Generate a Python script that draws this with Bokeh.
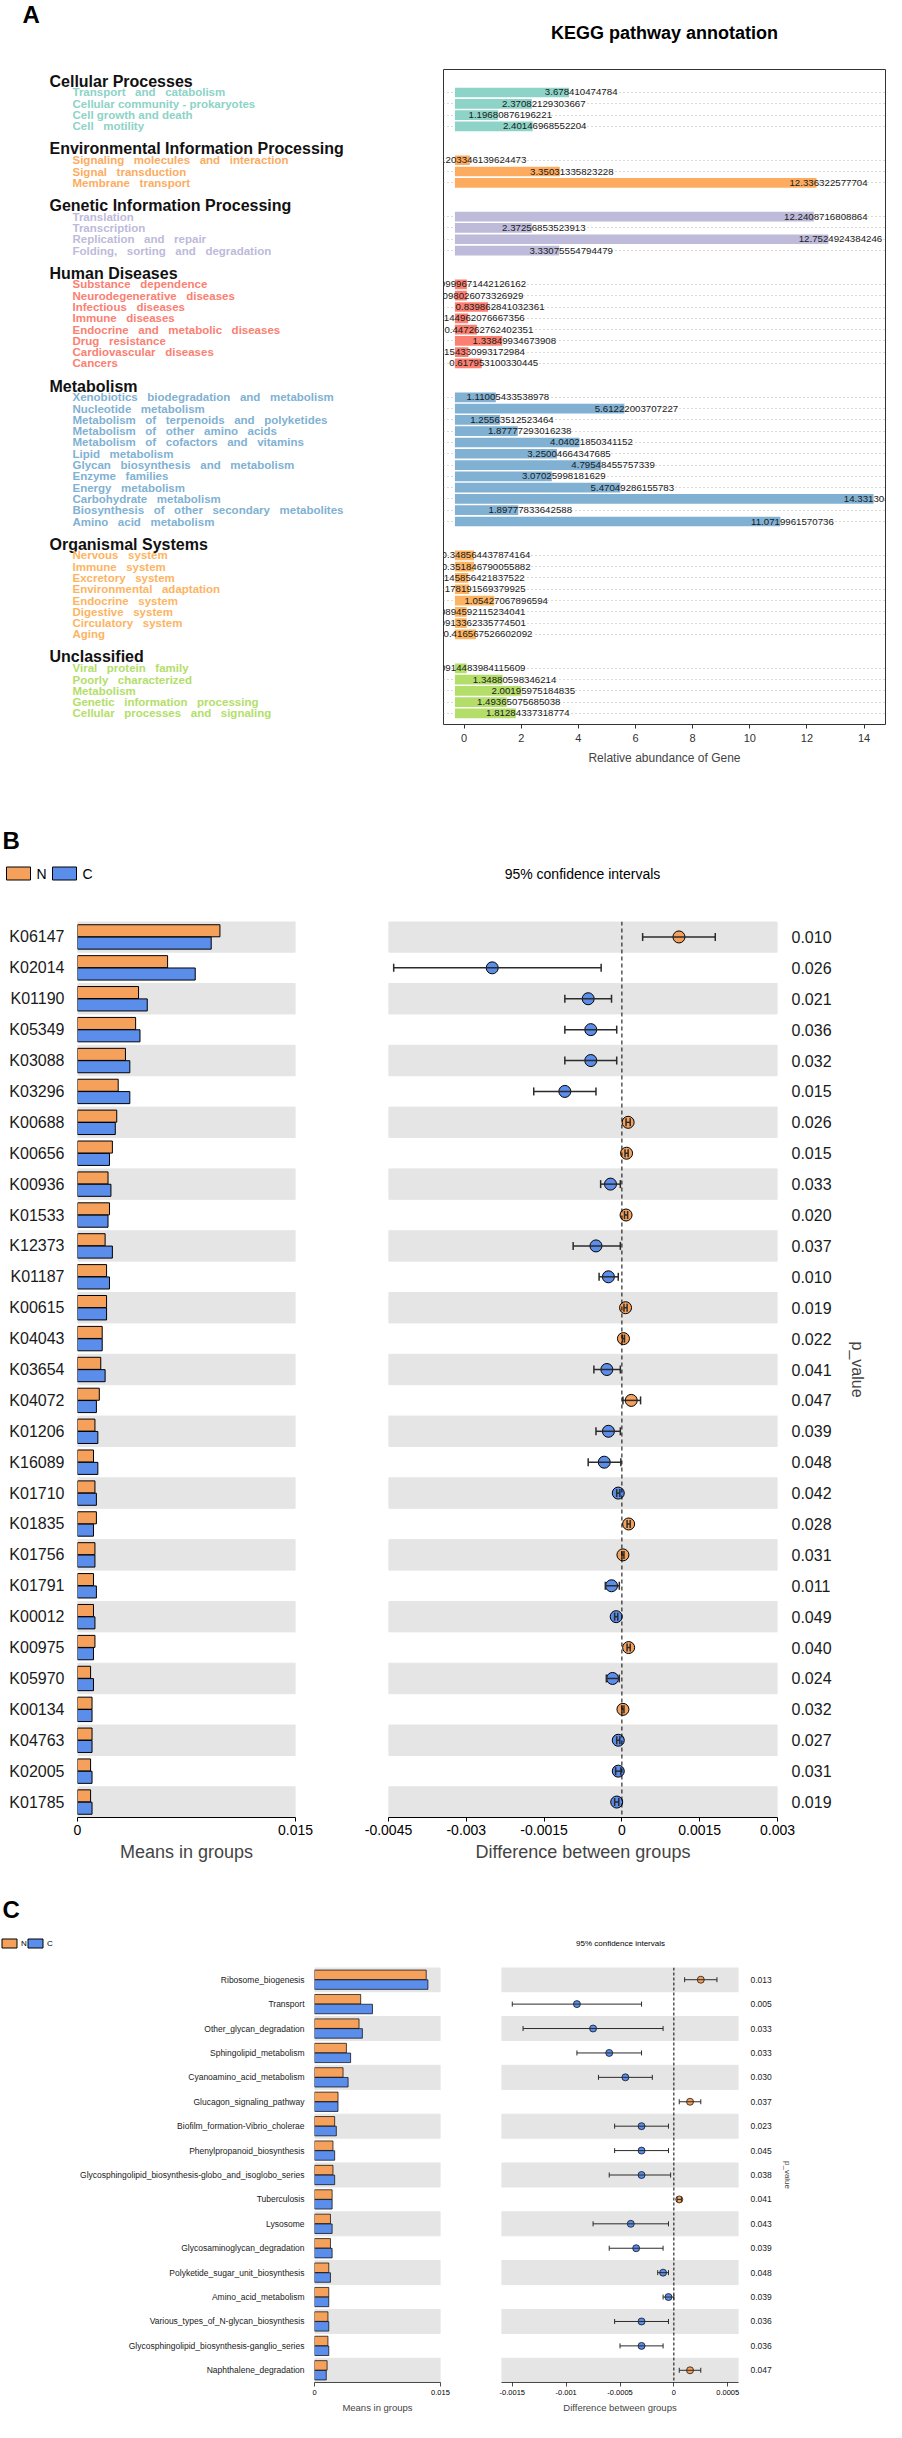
import math
from bokeh.plotting import figure
from bokeh.models import (Range1d, FactorRange, ColumnDataSource, FixedTicker,
                          Grid, Span, CustomJSTickFormatter)
from bokeh.layouts import column, row
from bokeh.transform import dodge
from bokeh.core.properties import value
from bokeh.embed import file_html
from bokeh.resources import INLINE

FONT = "Liberation Sans"

# ===================== Panel A data =====================
A_letter = "A"
A_title = "KEGG pathway annotation"
A_xlabel = "Relative abundance of Gene"
A_categories = ["Cellular Processes", "Environmental Information Processing",
                "Genetic Information Processing", "Human Diseases", "Metabolism",
                "Organismal Systems", "Unclassified"]
A_category_colors = ["#8DD3C7", "#FDAC5F", "#BEBADA", "#FB8072", "#80B1D3", "#FDB462", "#B3DE69"]

cellular_items = ["Transport and catabolism", "Cellular community - prokaryotes",
                  "Cell growth and death", "Cell motility"]
cellular_values = [3.678410474784, 2.37082129303667, 1.19680876196221, 2.40146968552204]

environmental_items = ["Signaling molecules and interaction", "Signal transduction",
                       "Membrane transport"]
environmental_values = [0.203346139624473, 3.35031335823228, 12.336322577704]

genetic_items = ["Translation", "Transcription", "Replication and repair",
                 "Folding, sorting and degradation"]
genetic_values = [12.2408716808864, 2.37256853523913, 12.7524924384246, 3.33075554794479]

human_items = ["Substance dependence", "Neurodegenerative diseases", "Infectious diseases",
               "Immune diseases", "Endocrine and metabolic diseases", "Drug resistance",
               "Cardiovascular diseases", "Cancers"]
human_values = [0.0999671442126162, 0.098026073326929, 0.839862841032361, 0.144962076667356,
                0.447262762402351, 1.33849934673908, 0.154330993172984, 0.617953100330445]

metabolism_items = ["Xenobiotics biodegradation and metabolism", "Nucleotide metabolism",
                    "Metabolism of terpenoids and polyketides", "Metabolism of other amino acids",
                    "Metabolism of cofactors and vitamins", "Lipid metabolism",
                    "Glycan biosynthesis and metabolism", "Enzyme families", "Energy metabolism",
                    "Carbohydrate metabolism", "Biosynthesis of other secondary metabolites",
                    "Amino acid metabolism"]
metabolism_values = [1.11005433538978, 5.61222003707227, 1.25563512523464, 1.87777293016238,
                     4.04021850341152, 3.25004664347685, 4.79548455757339, 3.07025998181629,
                     5.47049286155783, 14.3313045217685, 1.89777833642588, 11.0719961570736]

organismal_items = ["Nervous system", "Immune system", "Excretory system",
                    "Environmental adaptation", "Endocrine system", "Digestive system",
                    "Circulatory system", "Aging"]
organismal_values = [0.348564437874164, 0.351846790055882, 0.145856421837522, 0.178191569379925,
                     1.05427067896594, 0.0894592115234041, 0.0913362335774501, 0.416567526602092]

unclassified_items = ["Viral protein family", "Poorly characterized", "Metabolism",
                      "Genetic information processing", "Cellular processes and signaling"]
unclassified_values = [0.0914483984115609, 1.34880598346214, 2.00195975184835,
                       1.49365075685038, 1.81284337318774]

A_ticks = [0, 2, 4, 6, 8, 10, 12, 14]
A_normal_spacing = {"Cellular community - prokaryotes", "Cell growth and death"}

# ===================== Panel B data =====================
B_letter = "B"
B_groups = ["N", "C"]
B_ci_title = "95% confidence intervals"
B_kos = ["K06147", "K02014", "K01190", "K05349", "K03088", "K03296", "K00688", "K00656",
         "K00936", "K01533", "K12373", "K01187", "K00615", "K04043", "K03654", "K04072",
         "K01206", "K16089", "K01710", "K01835", "K01756", "K01791", "K00012", "K00975",
         "K05970", "K00134", "K04763", "K02005", "K01785"]
B_mean_N = [0.0098, 0.0062, 0.0042, 0.0040, 0.0033, 0.0028, 0.0027, 0.0024, 0.0021, 0.0022,
            0.0019, 0.0020, 0.0020, 0.0017, 0.0016, 0.0015, 0.0012, 0.0011, 0.0012, 0.0013,
            0.0012, 0.0011, 0.0011, 0.0012, 0.0009, 0.0010, 0.0010, 0.0009, 0.0009]
B_mean_C = [0.0092, 0.0081, 0.0048, 0.0043, 0.0036, 0.0036, 0.0026, 0.0022, 0.0023, 0.0021,
            0.0024, 0.0022, 0.0020, 0.0017, 0.0019, 0.0013, 0.0014, 0.0014, 0.0013, 0.0011,
            0.0012, 0.0013, 0.0012, 0.0011, 0.0011, 0.0010, 0.0010, 0.0010, 0.0010]
B_diff = [0.0011, -0.0025, -0.00065, -0.0006, -0.0006, -0.0011, 0.00012, 0.00009, -0.00022,
          0.00008, -0.0005, -0.00026, 0.00007, 0.00003, -0.00029, 0.00018, -0.00026, -0.00034,
          -0.00007, 0.00013, 0.00002, -0.0002, -0.00011, 0.00013, -0.00018, 0.00002, -0.00007,
          -0.00007, -0.0001]
B_ci_low = [0.0004, -0.0044, -0.0011, -0.0011, -0.0011, -0.0017, 0.00008, 0.00006, -0.00041,
            0.00005, -0.00094, -0.00044, 0.00004, 0.00001, -0.00054, 0.00002, -0.0005, -0.00065,
            -0.0001, 0.0001, 0.0, -0.00032, -0.00014, 0.0001, -0.0003, 0.0, -0.0001,
            -0.00012, -0.00014]
B_ci_high = [0.0018, -0.0004, -0.0002, -0.0001, -0.0001, -0.0005, 0.00016, 0.00012, -0.00003,
             0.00011, -0.00003, -0.00007, 0.0001, 0.00005, -0.00003, 0.00036, -0.00003, -0.00002,
             -0.00004, 0.00016, 0.00004, -0.00005, -0.00008, 0.00016, -0.00005, 0.00004, -0.00004,
             -0.00002, -0.00006]
B_pvalues = ["0.010", "0.026", "0.021", "0.036", "0.032", "0.015", "0.026", "0.015", "0.033",
             "0.020", "0.037", "0.010", "0.019", "0.022", "0.041", "0.047", "0.039", "0.048",
             "0.042", "0.028", "0.031", "0.011", "0.049", "0.040", "0.024", "0.032", "0.027",
             "0.031", "0.019"]
B_mean_ticks = [0, 0.015]
B_mean_tick_labels = ["0", "0.015"]
B_diff_ticks = [-0.0045, -0.003, -0.0015, 0, 0.0015, 0.003]
B_diff_tick_labels = ["-0.0045", "-0.003", "-0.0015", "0", "0.0015", "0.003"]

# ===================== Panel C data =====================
C_letter = "C"
C_paths = ["Ribosome_biogenesis", "Transport", "Other_glycan_degradation",
           "Sphingolipid_metabolism", "Cyanoamino_acid_metabolism",
           "Glucagon_signaling_pathway", "Biofilm_formation-Vibrio_cholerae",
           "Phenylpropanoid_biosynthesis",
           "Glycosphingolipid_biosynthesis-globo_and_isoglobo_series", "Tuberculosis",
           "Lysosome", "Glycosaminoglycan_degradation", "Polyketide_sugar_unit_biosynthesis",
           "Amino_acid_metabolism", "Various_types_of_N-glycan_biosynthesis",
           "Glycosphingolipid_biosynthesis-ganglio_series", "Naphthalene_degradation"]
C_mean_N = [0.0133, 0.0055, 0.0053, 0.0038, 0.0034, 0.0028, 0.0024, 0.0022, 0.0022, 0.0021,
            0.0019, 0.0019, 0.0017, 0.0017, 0.0016, 0.0016, 0.0015]
C_mean_C = [0.0135, 0.0069, 0.0057, 0.0043, 0.0040, 0.0028, 0.0026, 0.0024, 0.0024, 0.0021,
            0.0021, 0.0021, 0.0019, 0.0017, 0.0017, 0.0017, 0.0014]
C_diff = [0.00025, -0.0009, -0.00075, -0.0006, -0.00045, 0.00015, -0.0003, -0.0003, -0.0003,
          0.00005, -0.0004, -0.00035, -0.0001, -0.00005, -0.0003, -0.0003, 0.00015]
C_ci_low = [0.0001, -0.0015, -0.0014, -0.0009, -0.0007, 0.00005, -0.00055, -0.00055, -0.0006,
            0.00003, -0.00075, -0.0006, -0.00015, -0.0001, -0.00055, -0.0005, 0.00005]
C_ci_high = [0.0004, -0.0003, -0.0001, -0.0003, -0.0002, 0.00025, -0.00005, -0.00005, -0.00003,
             0.00007, -0.00005, -0.0001, -0.00005, 0.0, -0.00005, -0.0001, 0.00025]
C_pvalues = ["0.013", "0.005", "0.033", "0.033", "0.030", "0.037", "0.023", "0.045", "0.038",
             "0.041", "0.043", "0.039", "0.048", "0.039", "0.036", "0.036", "0.047"]
C_mean_ticks = [0, 0.015]
C_mean_tick_labels = ["0", "0.015"]
C_diff_ticks = [-0.0015, -0.001, -0.0005, 0, 0.0005]
C_diff_tick_labels = ["-0.0015", "-0.001", "-0.0005", "0", "0.0005"]

MEAN_TITLE = "Means in groups"
DIFF_TITLE = "Difference between groups"
PV_TITLE = "p_value"

ORANGE = "#F5A15C"
BLUE = "#5B8DEB"
BAND = "#E5E5E5"
GROUP_COLORS = [ORANGE, BLUE]


def no_grids(f):
    for gr in f.select(type=Grid):
        gr.visible = False


def base_fig(**kw):
    f = figure(output_backend="svg", toolbar_location=None, title=None, **kw)
    no_grids(f)
    return f


def header(h, y_top):
    f = base_fig(width=886, height=h, x_range=Range1d(8, 894), y_range=Range1d(y_top + h, y_top),
                 min_border=0, x_axis_location=None, y_axis_location=None)
    f.outline_line_color = None
    return f


def txt(f, x, y, s, size, bold=False, align="left", color="black"):
    f.text(x=[x], y=[y], text=[s], text_font=value(FONT), text_font_size=size,
           text_font_style="bold" if bold else "normal", text_align=align,
           text_baseline="middle", text_color=color)


# ===================== Panel A =====================
hA = header(69, 8)
txt(hA, 30, 22, A_letter, "24px", bold=True)
txt(hA, 672, 40, A_title, "18px", bold=True, align="center")

A_items = [cellular_items, environmental_items, genetic_items, human_items,
           metabolism_items, organismal_items, unclassified_items]
A_values = [cellular_values, environmental_values, genetic_values, human_values,
            metabolism_values, organismal_values, unclassified_values]

head_rows, head_names = [], []
it_rows, it_names, it_vals, it_cols, it_labels = [], [], [], [], []
r = 0
for cat, col, items, vals in zip(A_categories, A_category_colors, A_items, A_values):
    head_rows.append(r)
    head_names.append(cat)
    for j, (nm, v) in enumerate(zip(items, vals)):
        it_rows.append(r + 1 + j)
        it_names.append(nm if nm in A_normal_spacing else nm.replace(" ", "\u00a0\u00a0\u00a0"))
        it_vals.append(v)
        it_cols.append(col)
        it_labels.append(str(v))
    r += len(items) + 2

ROW0, PITCH = 88.7, 11.29
FR_TOP, FR_BOT = 77, 732
yA = Range1d((FR_BOT - ROW0) / PITCH, (FR_TOP - ROW0) / PITCH)

pAL = base_fig(width=443, height=723, x_range=Range1d(8, 451), y_range=yA,
               min_border_left=0, min_border_right=0, min_border_top=0, min_border_bottom=68,
               x_axis_location=None, y_axis_location=None)
pAL.outline_line_color = None
pAL.text(x=57, y=head_rows, text=head_names, text_font=value(FONT), text_font_size="16px",
         text_font_style="bold", text_baseline="middle", text_color="#111111")
pAL.text(x=80, y=it_rows, text=it_names, text_color=it_cols, text_font=value(FONT),
         text_font_size="11.5px", text_font_style="bold", text_baseline="middle")

A_BAR_BASE = -0.32
srcA = ColumnDataSource(dict(row=it_rows, value=it_vals, color=it_cols, label=it_labels))
pA = base_fig(width=443, height=723, x_range=Range1d(-0.72, 14.75), y_range=yA,
              min_border_left=0, min_border_right=1, min_border_top=0, min_border_bottom=68,
              y_axis_location=None)
pA.add_layout(Grid(dimension=1, ticker=FixedTicker(ticks=it_rows), grid_line_color="#b5b5b5",
                   grid_line_dash="1 3", grid_line_width=1))
pA.hbar(y="row", left=A_BAR_BASE, right="value", height=0.86, fill_color="color",
        line_color=None, source=srcA)
pA.text(x="value", y="row", text="label", x_offset=12, text_align="center",
        text_baseline="middle", text_font=value(FONT), text_font_size="9.7px",
        text_color="#1a1a1a", source=srcA)
pA.outline_line_color = "#333333"
pA.outline_line_width = 1
xa = pA.xaxis[0]
xa.ticker = FixedTicker(ticks=A_ticks)
xa.axis_label = A_xlabel
xa.axis_label_text_font = FONT
xa.axis_label_text_font_size = "12px"
xa.axis_label_text_font_style = "normal"
xa.axis_label_standoff = 6
xa.major_label_text_font = FONT
xa.major_label_text_font_size = "11px"
xa.major_label_text_color = "#333333"
xa.axis_line_color = None
xa.major_tick_in = 0
xa.major_tick_out = 4
xa.major_tick_line_color = "#333333"
xa.minor_tick_line_color = None


# ===================== STAMP panels (B and C) =====================
def style_x(ax, ticks, labels, title, tick_fs, title_fs, lw):
    ax.ticker = FixedTicker(ticks=ticks)
    ax.major_label_overrides = dict(zip(ticks, labels))
    ax.axis_label = title
    ax.axis_label_text_font = FONT
    ax.axis_label_text_font_size = title_fs
    ax.axis_label_text_font_style = "normal"
    ax.axis_label_standoff = 4
    ax.major_label_text_font = FONT
    ax.major_label_text_font_size = tick_fs
    ax.major_label_text_color = "black"
    ax.major_label_standoff = 3
    ax.axis_line_color = "black"
    ax.axis_line_width = lw
    ax.major_tick_line_color = "black"
    ax.major_tick_line_width = lw
    ax.major_tick_in = 0
    ax.major_tick_out = 4
    ax.minor_tick_line_color = None


def stamp(names, mN, mC, dif, lo, hi, pv, mean_ticks, mean_labels, diff_ticks, diff_labels,
          mean_range, diff_range, g):
    yr = FactorRange(factors=list(reversed(names)))
    src = ColumnDataSource(dict(k=names, N=mN, C=mC, d=dif, lo=lo, hi=hi,
                                pc=[ORANGE if v > 0 else BLUE for v in dif]))
    band = ColumnDataSource(dict(k=names[0::2]))

    L = base_fig(width=g["lw"], height=g["h"], x_range=Range1d(*mean_range), y_range=yr,
                 min_border_left=g["l_left"], min_border_right=g["l_right"], min_border_top=0,
                 min_border_bottom=g["bottom"])
    L.outline_line_color = None
    L.hbar(y="k", left=mean_range[0], right=mean_range[1], height=0.985, color=BAND,
           source=band)
    L.hbar(y=dodge("k", g["dodge"], range=yr), left=0, right="N", height=g["bh"],
           fill_color=ORANGE, line_color="black", line_width=g["olw"], source=src)
    L.hbar(y=dodge("k", -g["dodge"], range=yr), left=0, right="C", height=g["bh"],
           fill_color=BLUE, line_color="black", line_width=g["olw"], source=src)
    ya = L.yaxis[0]
    ya.axis_line_color = None
    ya.major_tick_line_color = None
    ya.minor_tick_line_color = None
    ya.major_label_standoff = g["lab_standoff"]
    ya.major_label_text_font = FONT
    ya.major_label_text_font_size = g["lab_fs"]
    ya.major_label_text_color = "#1a1a1a"
    style_x(L.xaxis[0], mean_ticks, mean_labels, MEAN_TITLE, g["tick_fs"], g["title_fs"], g["alw"])

    R = base_fig(width=g["rw"], height=g["h"], x_range=Range1d(*diff_range), y_range=yr,
                 min_border_left=g["r_left"], min_border_right=g["r_right"], min_border_top=0,
                 min_border_bottom=g["bottom"], y_axis_location="right")
    R.outline_line_color = None
    R.hbar(y="k", left=diff_range[0], right=diff_range[1], height=0.985, color=BAND,
           source=band)
    R.scatter(x="d", y="k", size=g["pt"], fill_color="pc", line_color="black",
              line_width=g["olw"], source=src)
    R.segment(x0="lo", y0="k", x1="hi", y1="k", line_color="#2b2b2b", line_width=g["elw"],
              source=src)
    for fld in ("lo", "hi"):
        R.scatter(x=fld, y="k", marker="dash", angle=math.pi / 2, size=g["cap"],
                  line_color="#2b2b2b", line_width=g["elw"], source=src)
    R.add_layout(Span(location=0, dimension="height", line_color="black",
                      line_dash=g["dash"], line_width=1))
    style_x(R.xaxis[0], diff_ticks, diff_labels, DIFF_TITLE, g["tick_fs"], g["title_fs"], g["alw"])

    pa = R.yaxis[0]
    pa.formatter = CustomJSTickFormatter(
        args=dict(names=list(names), pvals=list(pv)),
        code="const i = names.indexOf(tick); return i >= 0 ? pvals[i] : tick;")
    pa.axis_line_color = None
    pa.major_tick_line_color = None
    pa.minor_tick_line_color = None
    pa.major_label_standoff = g["p_standoff"]
    pa.major_label_text_font = FONT
    pa.major_label_text_font_size = g["lab_fs"]
    pa.major_label_text_color = "#1a1a1a"
    pa.axis_label = PV_TITLE
    pa.axis_label_text_font = FONT
    pa.axis_label_text_font_size = g["pv_fs"]
    pa.axis_label_text_font_style = "normal"
    pa.axis_label_standoff = g["pv_standoff"]
    return L, R


def legend_header(f, x0, step, y, w, h, gap, fs):
    xs = [x0 + i * step for i in range(len(B_groups))]
    f.rect(x=xs, y=y, width=w, height=h, width_units="screen", height_units="screen",
           fill_color=GROUP_COLORS, line_color="black", line_width=1)
    f.text(x=[x + w / 2 + gap for x in xs], y=y, text=B_groups, text_font=value(FONT),
           text_font_size=fs, text_baseline="middle", text_color="black")


# ---- B ----
hB = header(129, 800)
txt(hB, 10, 848, B_letter, "24px", bold=True)
legend_header(hB, 26, 46, 881, 24, 13, 6, "14px")
txt(hB, 590, 881, B_ci_title, "14px", align="center")

gB = dict(lw=335, rw=551, h=961, l_left=77, l_right=40, r_left=53, r_right=109, bottom=65,
          bh=0.39, dodge=0.2, olw=1, pt=12, cap=8, elw=1.5, dash="4 3", lab_fs="16px",
          lab_standoff=7, tick_fs="14px", title_fs="18px", alw=1, p_standoff=8, pv_fs="16px",
          pv_standoff=14)
pBL, pBR = stamp(B_kos, B_mean_N, B_mean_C, B_diff, B_ci_low, B_ci_high, B_pvalues,
                 B_mean_ticks, B_mean_tick_labels, B_diff_ticks, B_diff_tick_labels,
                 (0, 0.015), (-0.0045, 0.003), gB)

# ---- C ----
hC = header(85, 1890)
txt(hC, 10, 1917, C_letter, "24px", bold=True)
legend_header(hC, 17, 26, 1951, 15, 9, 4, "8px")
txt(hC, 628, 1951, B_ci_title, "8px", align="center")

gC = dict(lw=462, rw=424, h=455, l_left=314, l_right=22, r_left=39, r_right=148, bottom=40,
          bh=0.39, dodge=0.2, olw=0.7, pt=7, cap=5, elw=1, dash="3 2", lab_fs="8.5px",
          lab_standoff=4, tick_fs="7.5px", title_fs="9.5px", alw=0.7, p_standoff=6, pv_fs="8px",
          pv_standoff=8)
pCL, pCR = stamp(C_paths, C_mean_N, C_mean_C, C_diff, C_ci_low, C_ci_high, C_pvalues,
                 C_mean_ticks, C_mean_tick_labels, C_diff_ticks, C_diff_tick_labels,
                 (0, 0.015), (-0.0016, 0.0006), gC)

page = column(hA, row(pAL, pA), hB, row(pBL, pBR), hC, row(pCL, pCR))
open("out.html", "w").write(file_html(page, INLINE))
